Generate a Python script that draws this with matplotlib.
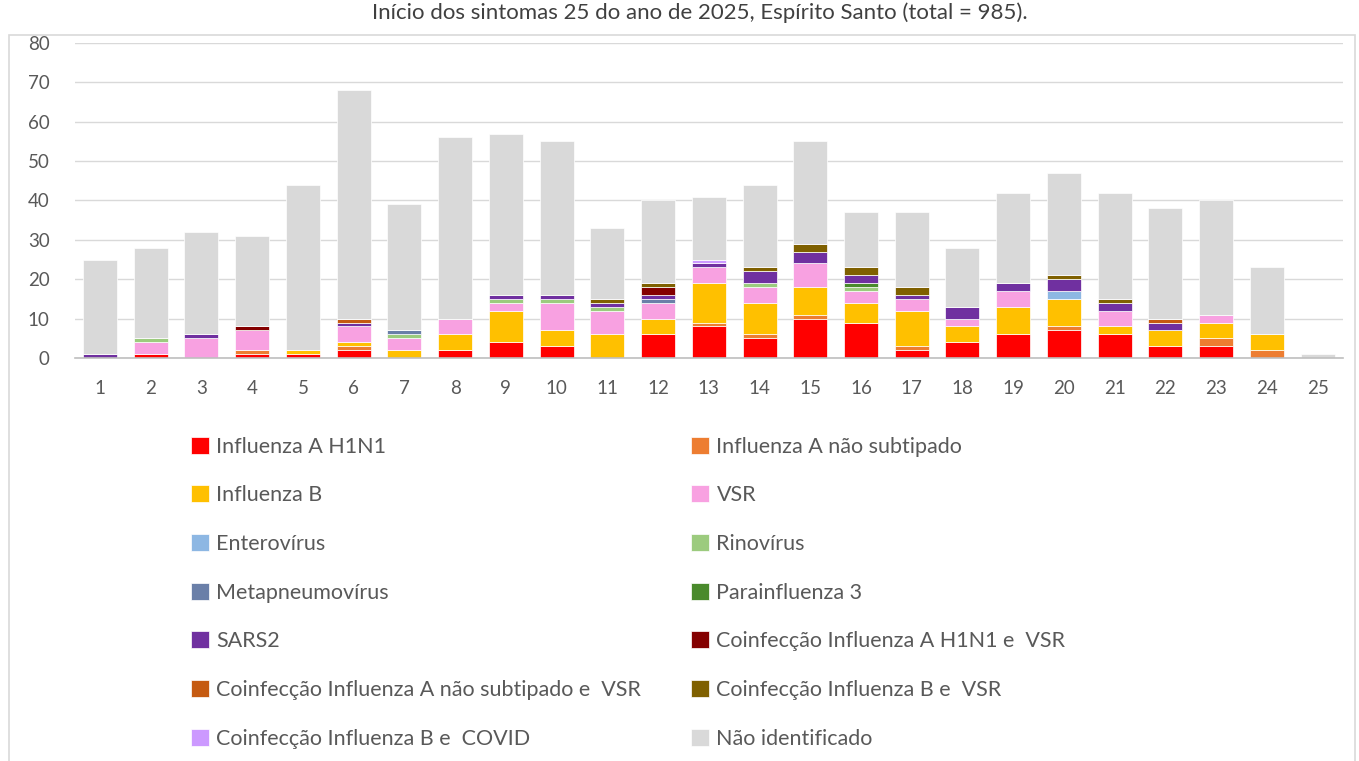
import matplotlib

matplotlib.use("Agg")
import matplotlib.pyplot as plt
import numpy as np
from matplotlib.patches import Rectangle

plt.rcParams["font.family"] = ["Lato", "DejaVu Sans"]

# semanas epidemiológicas
weeks = list(range(1, 26))

# casos por agente etiológico (ordem de empilhamento = ordem da legenda)
h1n1 = [0, 1, 0, 1, 1, 2, 0, 2, 4, 3, 0, 6, 8, 5, 10, 9, 2, 4, 6, 7, 6, 3, 3, 0, 0]
flu_a_ns = [0, 0, 0, 1, 0, 1, 0, 0, 0, 0, 0, 0, 1, 1, 1, 0, 1, 0, 0, 1, 0, 0, 2, 2, 0]
flu_b = [0, 0, 0, 0, 1, 1, 2, 4, 8, 4, 6, 4, 10, 8, 7, 5, 9, 4, 7, 7, 2, 4, 4, 4, 0]
vsr = [0, 3, 5, 5, 0, 4, 3, 4, 2, 7, 6, 4, 4, 4, 6, 3, 3, 2, 4, 0, 4, 0, 2, 0, 0]
enterovirus = [0, 0, 0, 0, 0, 0, 0, 0, 0, 0, 0, 0, 0, 0, 0, 0, 0, 0, 0, 2, 0, 0, 0, 0, 0]
rinovirus = [0, 1, 0, 0, 0, 0, 1, 0, 1, 1, 1, 0, 0, 1, 0, 1, 0, 0, 0, 0, 0, 0, 0, 0, 0]
metapneumo = [0, 0, 0, 0, 0, 0, 1, 0, 0, 0, 0, 1, 0, 0, 0, 0, 0, 0, 0, 0, 0, 0, 0, 0, 0]
parainf3 = [0, 0, 0, 0, 0, 0, 0, 0, 0, 0, 0, 0, 0, 0, 0, 1, 0, 0, 0, 0, 0, 0, 0, 0, 0]
sars2 = [1, 0, 1, 0, 0, 1, 0, 0, 1, 1, 1, 1, 1, 3, 3, 2, 1, 3, 2, 3, 2, 2, 0, 0, 0]
co_h1n1_vsr = [0, 0, 0, 1, 0, 0, 0, 0, 0, 0, 0, 2, 0, 0, 0, 0, 0, 0, 0, 0, 0, 0, 0, 0, 0]
co_ans_vsr = [0, 0, 0, 0, 0, 1, 0, 0, 0, 0, 0, 0, 0, 0, 0, 0, 0, 0, 0, 0, 0, 1, 0, 0, 0]
co_b_vsr = [0, 0, 0, 0, 0, 0, 0, 0, 0, 0, 1, 1, 0, 1, 2, 2, 2, 0, 0, 1, 1, 0, 0, 0, 0]
co_b_covid = [0, 0, 0, 0, 0, 0, 0, 0, 0, 0, 0, 0, 1, 0, 0, 0, 0, 0, 0, 0, 0, 0, 0, 0, 0]
nao_id = [24, 23, 26, 23, 42, 58, 32, 46, 41, 39, 18, 21, 16, 21, 26, 14, 19, 15, 23, 26, 27, 28, 29, 17, 1]

series = [
    ("Influenza A H1N1", h1n1, "#FF0000"),
    ("Influenza A não subtipado", flu_a_ns, "#ED7D31"),
    ("Influenza B", flu_b, "#FFC000"),
    ("VSR", vsr, "#F8A1E1"),
    ("Enterovírus", enterovirus, "#8DB7E3"),
    ("Rinovírus", rinovirus, "#9CCB7E"),
    ("Metapneumovírus", metapneumo, "#6A7FA8"),
    ("Parainfluenza 3", parainf3, "#4A8A2C"),
    ("SARS2", sars2, "#7030A0"),
    ("Coinfecção Influenza A H1N1 e  VSR", co_h1n1_vsr, "#840000"),
    ("Coinfecção Influenza A não subtipado e  VSR", co_ans_vsr, "#C55A11"),
    ("Coinfecção Influenza B e  VSR", co_b_vsr, "#7F6000"),
    ("Coinfecção Influenza B e  COVID", co_b_covid, "#CC99FF"),
    ("Não identificado", nao_id, "#D9D9D9"),
]

TXT = "#595959"

fig = plt.figure(figsize=(13.59, 7.61), dpi=100)
ax = fig.add_axes([0.0549, 0.5296, 0.9333, 0.4139])

bottom = np.zeros(len(weeks))
handles = []
for label, vals, color in series:
    b = ax.bar(weeks, vals, width=0.67, bottom=bottom, color=color,
               edgecolor="white", linewidth=0.5, label=label, zorder=2)
    handles.append(b)
    bottom += np.array(vals)

ax.set_xlim(0.5, 25.5)
ax.set_ylim(0, 80)
ax.set_yticks(range(0, 81, 10))
ax.set_xticks(weeks)
ax.grid(axis="y", color="#D9D9D9", linewidth=1, zorder=0)
for s in ["top", "right", "left"]:
    ax.spines[s].set_visible(False)
ax.spines["bottom"].set_color("#BFBFBF")
ax.spines["bottom"].set_linewidth(1.2)
ax.tick_params(length=0, colors=TXT, labelsize=13.5)
ax.tick_params(axis="y", pad=18)
ax.tick_params(axis="x", pad=16)

# título no topo da figura
fig.text(0.515, 1 - 19 / 761, "Início dos sintomas 25 do ano de 2025, Espírito Santo (total = 985).",
         ha="center", va="baseline", fontsize=16, color="#404040")

# borda do gráfico
fig.patches.append(Rectangle((9 / 1359, -0.01), 1346 / 1359, 1 - 35 / 761 + 0.01,
                             transform=fig.transFigure, fill=False,
                             edgecolor="#D9D9D9", linewidth=1.2))

# legenda em duas colunas, preenchida por linha
leg_kw = dict(frameon=False, fontsize=15.5, labelcolor=TXT, handlelength=0.85,
              handleheight=0.85, handletextpad=0.35, labelspacing=1.33,
              loc="upper left", borderaxespad=0)
fig.legend(handles[0::2], [s[0] for s in series[0::2]],
           bbox_to_anchor=(182 / 1359, 1 - 428 / 761), **leg_kw)
fig.legend(handles[1::2], [s[0] for s in series[1::2]],
           bbox_to_anchor=(682 / 1359, 1 - 428 / 761), **leg_kw)

fig.savefig("out.png", dpi=100)
plt.close(fig)
